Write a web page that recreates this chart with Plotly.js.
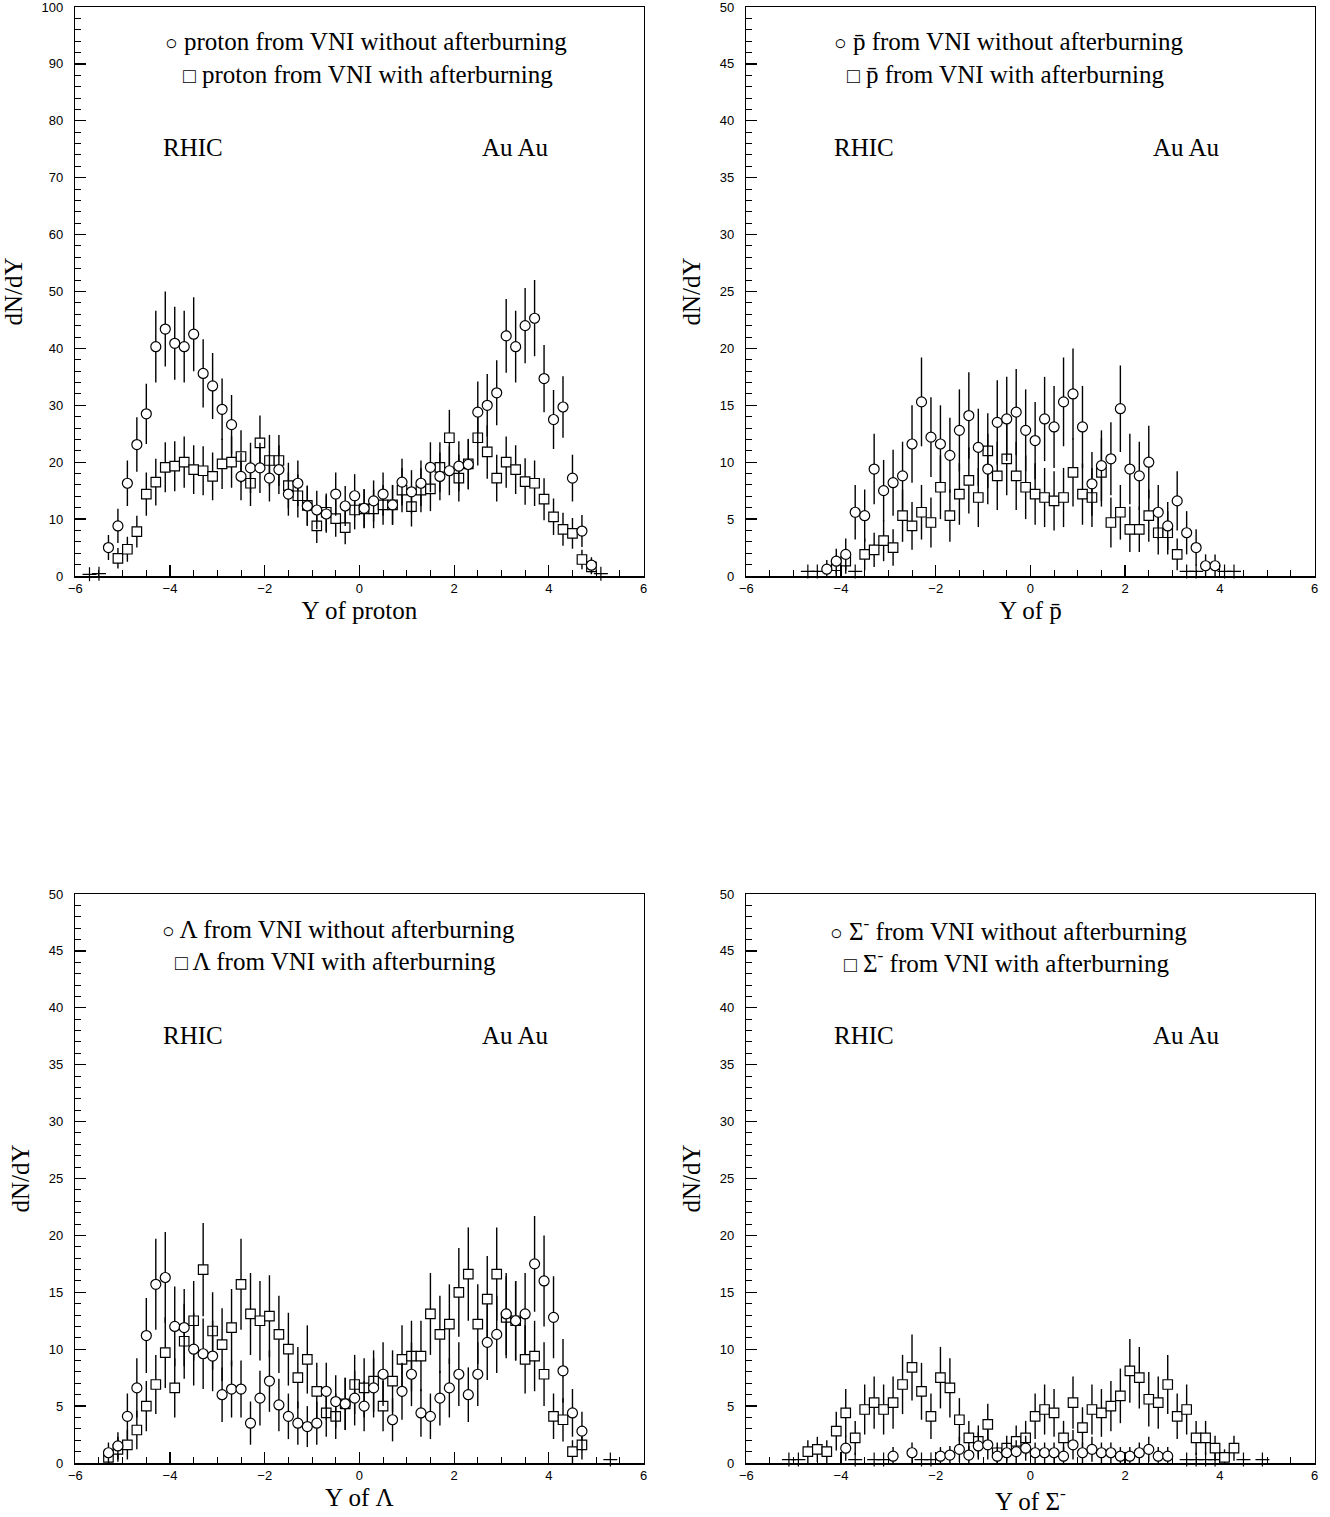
<!DOCTYPE html>
<html><head><meta charset="utf-8">
<script src="https://cdn.plot.ly/plotly-3.0.1.min.js"></script>
<style>body{margin:0;background:#fff}#chart{width:1330px;height:1517px}</style>
</head><body><div id="chart"></div>
<script>
// bin centres (rapidity Y)
const BINS = [-5.3,-5.1,-4.9,-4.7,-4.5,-4.3,-4.1,-3.9,-3.7,-3.5,-3.3,-3.1,-2.9,-2.7,-2.5,-2.3,-2.1,-1.9,-1.7,-1.5,-1.3,-1.1,-0.9,-0.7,-0.5,-0.3,-0.1,0.1,0.3,0.5,0.7,0.9,1.1,1.3,1.5,1.7,1.9,2.1,2.3,2.5,2.7,2.9,3.1,3.3,3.5,3.7,3.9,4.1,4.3,4.5,4.7,4.9];

// Panel 1: proton
const protonNoAB_x = BINS;
const protonNoAB = [5.0,8.8,16.3,23.1,28.5,40.3,43.4,40.9,40.3,42.5,35.6,33.4,29.3,26.6,17.5,19.0,19.0,17.2,18.7,14.4,16.3,12.3,11.6,10.9,14.4,12.3,14.1,11.9,13.2,14.4,12.5,16.5,14.8,16.3,19.1,17.5,18.5,19.3,19.6,28.8,30.0,32.2,42.2,40.3,44.0,45.3,34.7,27.5,29.7,17.2,7.9,1.9];
const protonNoAB_err = [2.2,3.0,4.0,4.8,5.3,6.3,6.6,6.4,6.3,6.5,6.0,5.8,5.4,5.2,4.2,4.4,4.4,4.1,4.3,3.8,4.0,3.5,3.4,3.3,3.8,3.5,3.8,3.4,3.6,3.8,3.5,4.1,3.8,4.0,4.4,4.2,4.3,4.4,4.4,5.4,5.5,5.7,6.5,6.3,6.6,6.7,5.9,5.2,5.4,4.1,2.8,1.4];
const protonAB_x = BINS.slice(1);
const protonAB = [3.1,4.7,7.8,14.4,16.5,19.1,19.3,20.0,18.7,18.5,17.5,19.7,20.0,21.0,16.3,23.4,20.3,20.3,15.9,14.1,12.4,8.8,11.2,10.1,8.5,11.6,11.8,11.8,12.5,12.5,15.1,12.2,15.1,15.3,19.1,24.3,17.2,19.7,24.3,21.8,17.2,20.0,18.7,16.6,16.3,13.5,10.4,8.2,7.5,2.9,1.6];
const protonAB_err = [1.8,2.2,2.8,3.8,4.1,4.4,4.4,4.5,4.3,4.3,4.2,4.4,4.5,4.6,4.0,4.8,4.5,4.5,4.0,3.8,3.5,3.0,3.3,3.2,2.9,3.4,3.4,3.4,3.5,3.5,3.9,3.5,3.9,3.9,4.4,4.9,4.1,4.4,4.9,4.7,4.1,4.5,4.3,4.1,4.0,3.7,3.2,2.9,2.7,1.7,1.3];
const protonEmpty_x = [-5.7,-5.5,5.1];
const protonEmpty = [0.3,0.4,0.4];

// Panel 2: anti-proton
const pbarNoAB_x = BINS.slice(5,47);
const pbarNoAB = [0.6,1.3,1.9,5.6,5.3,9.4,7.5,8.2,8.8,11.6,15.3,12.2,11.6,10.6,12.8,14.1,11.3,9.4,13.5,13.8,14.4,12.8,11.9,13.8,13.1,15.3,16.0,13.1,8.1,9.7,10.3,14.7,9.4,8.8,10.0,5.6,4.4,6.6,3.8,2.5,0.9,0.9];
const pbarNoAB_err = [0.8,1.1,1.4,2.4,2.3,3.1,2.7,2.9,3.0,3.4,3.9,3.5,3.4,3.3,3.6,3.8,3.4,3.1,3.7,3.7,3.8,3.6,3.4,3.7,3.6,3.9,4.0,3.6,2.8,3.1,3.2,3.8,3.1,3.0,3.2,2.4,2.1,2.6,1.9,1.6,1.0,1.0];
const pbarAB_x = [-4.1,-3.9,-3.5,-3.3,-3.1,-2.9,-2.7,-2.5,-2.3,-2.1,-1.9,-1.7,-1.5,-1.3,-1.1,-0.9,-0.7,-0.5,-0.3,-0.1,0.1,0.3,0.5,0.7,0.9,1.1,1.3,1.5,1.7,1.9,2.1,2.3,2.5,2.7,2.9,3.1];
const pbarAB = [0.9,1.3,1.9,2.3,3.1,2.5,5.3,4.4,5.6,4.7,7.8,5.3,7.2,8.4,6.9,11.0,8.8,10.3,8.8,7.8,7.2,6.9,6.6,6.9,9.1,7.2,6.9,9.1,4.7,5.6,4.1,4.1,5.3,3.8,3.8,1.9];
const pbarAB_err = [0.9,1.1,1.4,1.5,1.8,1.6,2.3,2.1,2.4,2.2,2.8,2.3,2.7,2.9,2.6,3.3,3.0,3.2,3.0,2.8,2.7,2.6,2.6,2.6,3.0,2.7,2.6,3.0,2.2,2.4,2.0,2.0,2.3,1.9,1.9,1.4];
const pbarEmpty_x = [-4.7,-4.5,-3.7,3.3,3.5,4.1,4.3];
const pbarEmpty = [0.4,0.4,0.4,0.4,0.4,0.4,0.4];

// Panel 3: Lambda
const lambdaNoAB_x = BINS.slice(0,51);
const lambdaNoAB = [0.9,1.5,4.1,6.6,11.2,15.7,16.3,12.0,11.9,10.0,9.6,9.4,6.0,6.5,6.5,3.5,5.7,7.2,5.1,4.1,3.5,3.2,3.5,6.3,5.4,5.2,5.7,5.0,6.6,7.8,3.8,6.3,7.8,4.4,4.1,5.7,6.6,7.8,6.0,7.8,10.6,11.3,13.1,12.5,13.1,17.5,16.0,12.8,8.1,4.4,2.8];
const lambdaNoAB_err = [0.9,1.2,2.0,2.6,3.3,4.0,4.0,3.5,3.4,3.2,3.1,3.1,2.4,2.5,2.5,1.9,2.4,2.7,2.3,2.0,1.9,1.8,1.9,2.5,2.3,2.3,2.4,2.2,2.6,2.8,1.9,2.5,2.8,2.1,2.0,2.4,2.6,2.8,2.4,2.8,3.3,3.4,3.6,3.5,3.6,4.2,4.0,3.6,2.8,2.1,1.7];
const lambdaAB_x = BINS.slice(0,51);
const lambdaAB = [0.5,1.2,1.6,2.9,5.0,6.9,9.7,6.6,10.7,12.5,17.0,11.6,10.4,11.9,15.7,13.1,12.5,12.9,11.3,10.0,7.5,9.1,6.3,4.4,4.1,5.2,6.9,6.6,7.2,5.0,7.2,9.1,9.4,9.4,13.1,11.3,12.2,15.0,16.6,12.2,14.4,16.6,12.8,12.5,9.1,9.4,7.8,4.1,3.8,1.0,1.6];
const lambdaAB_err = [0.7,1.1,1.3,1.7,2.2,2.6,3.1,2.6,3.3,3.5,4.1,3.4,3.2,3.4,4.0,3.6,3.5,3.6,3.4,3.2,2.7,3.0,2.5,2.1,2.0,2.3,2.6,2.6,2.7,2.2,2.7,3.0,3.1,3.1,3.6,3.4,3.5,3.9,4.1,3.5,3.8,4.1,3.6,3.5,3.0,3.1,2.8,2.0,1.9,1.0,1.3];
const lambdaEmpty_x = [5.3];
const lambdaEmpty = [0.3];

// Panel 4: Sigma-
const sigmaNoAB_x = [-3.9,-2.9,-2.5,-1.9,-1.7,-1.5,-1.3,-1.1,-0.9,-0.7,-0.5,-0.3,-0.1,0.1,0.3,0.5,0.7,0.9,1.1,1.3,1.5,1.7,1.9,2.1,2.3,2.5,2.7,2.9];
const sigmaNoAB = [1.3,0.6,0.9,0.6,0.7,1.2,0.7,1.5,1.6,0.6,0.9,1.0,1.3,0.9,0.9,0.9,0.6,1.6,0.9,1.2,0.9,0.9,0.6,0.6,0.9,1.2,0.6,0.6];
const sigmaNoAB_err = [1.1,0.8,0.9,0.8,0.8,1.1,0.8,1.2,1.3,0.8,0.9,1.0,1.1,0.9,0.9,0.9,0.8,1.3,0.9,1.1,0.9,0.9,0.8,0.8,0.9,1.1,0.8,0.8];
const sigmaAB_x = BINS.slice(3,49);
const sigmaAB = [1.0,1.2,1.0,2.8,4.4,2.2,4.7,5.3,4.7,5.3,6.9,8.4,6.3,4.1,7.5,6.6,3.8,2.2,1.9,3.4,0.9,1.3,1.9,2.2,4.1,4.7,4.4,2.2,5.3,3.1,4.7,4.4,5.0,5.9,8.1,7.5,5.6,5.3,6.9,4.1,4.7,2.2,2.2,1.3,0.5,1.3];
const sigmaAB_err = [1.0,1.1,1.0,1.7,2.1,1.5,2.2,2.3,2.2,2.3,2.6,2.9,2.5,2.0,2.7,2.6,1.9,1.5,1.4,1.8,0.9,1.1,1.4,1.5,2.0,2.2,2.1,1.5,2.3,1.8,2.2,2.1,2.2,2.4,2.8,2.7,2.4,2.3,2.6,2.0,2.2,1.5,1.5,1.1,0.7,1.1];
const sigmaEmpty_x = [-5.1,-4.9,-3.7,-3.3,-3.1,-2.3,-2.1,3.3,3.5,3.7,3.9,4.5,4.9];
const sigmaEmpty = [0.3,0.3,0.3,0.3,0.3,0.3,0.3,0.3,0.3,0.3,0.3,0.3,0.3];

const xTitles = ['Y of proton','Y of p\u0304','Y of \u039b','Y of \u03a3<sup>-</sup>'];
const particles = ['proton','p\u0304','\u039b','\u03a3<sup>-</sup>'];
const yMax = [100,50,50,50];

const W = 1330, H = 1517;
const SERIF = 'Liberation Serif, Times New Roman, serif';
const SANS = 'Liberation Sans, Arial, sans-serif';

// plot-area boxes in pixels [left, right, top, bottom]
const boxes = [[75.3,643.5,7,576],[746.3,1314.5,7,576],[75.3,643.5,894,1463],[746.3,1314.5,894,1463]];

const panels = [
  {nx:protonNoAB_x,ny:protonNoAB,ne:protonNoAB_err,ax:protonAB_x,ay:protonAB,ae:protonAB_err,ex:protonEmpty_x,ey:protonEmpty},
  {nx:pbarNoAB_x,ny:pbarNoAB,ne:pbarNoAB_err,ax:pbarAB_x,ay:pbarAB,ae:pbarAB_err,ex:pbarEmpty_x,ey:pbarEmpty},
  {nx:lambdaNoAB_x,ny:lambdaNoAB,ne:lambdaNoAB_err,ax:lambdaAB_x,ay:lambdaAB,ae:lambdaAB_err,ex:lambdaEmpty_x,ey:lambdaEmpty},
  {nx:sigmaNoAB_x,ny:sigmaNoAB,ne:sigmaNoAB_err,ax:sigmaAB_x,ay:sigmaAB,ae:sigmaAB_err,ex:sigmaEmpty_x,ey:sigmaEmpty}
];

const traces = [];
const layout = {width:W,height:H,margin:{l:0,r:0,t:0,b:0},paper_bgcolor:'#fff',plot_bgcolor:'#fff',showlegend:false,annotations:[]};

panels.forEach((p,i)=>{
  const n = i+1, xa = 'x'+(i?n:''), ya = 'y'+(i?n:'');
  const eb = (arr)=>({type:'data',array:arr,visible:true,color:'#000',thickness:1.4,width:0});
  traces.push({x:p.ex,y:p.ey,xaxis:xa,yaxis:ya,mode:'markers',type:'scatter',
    marker:{symbol:'cross-thin',size:10,line:{color:'#000',width:1.2}},cliponaxis:false});
  traces.push({x:p.ax,y:p.ay,xaxis:xa,yaxis:ya,mode:'markers',type:'scatter',error_y:eb(p.ae),
    marker:{symbol:'square',size:9.5,color:'#fff',line:{color:'#000',width:1.2}}});
  traces.push({x:p.nx,y:p.ny,xaxis:xa,yaxis:ya,mode:'markers',type:'scatter',error_y:eb(p.ne),
    marker:{symbol:'circle',size:10,color:'#fff',line:{color:'#000',width:1.2}}});
  const b = boxes[i];
  layout['xaxis'+(i?n:'')] = {domain:[b[0]/W,b[1]/W],anchor:ya,range:[-6,6],showgrid:false,zeroline:false,
    showline:true,mirror:true,linecolor:'#000',linewidth:1.5,ticks:'inside',ticklen:11,tickwidth:1.2,tickcolor:'#000',
    tick0:-6,dtick:2,minor:{ticks:'inside',ticklen:6,tickwidth:1,tickcolor:'#000',dtick:0.5,showgrid:false},
    tickfont:{family:SANS,size:13,color:'#000'},ticklabeloverflow:'allow',
    title:{text:xTitles[i],font:{family:SERIF,size:25,color:'#000'},standoff:6}};
  layout['yaxis'+(i?n:'')] = {domain:[1-b[3]/H,1-b[2]/H],anchor:xa,range:[0,yMax[i]],showgrid:false,zeroline:false,
    showline:true,mirror:true,linecolor:'#000',linewidth:1.5,ticks:'inside',ticklen:11,tickwidth:1.2,tickcolor:'#000',
    tick0:0,dtick:yMax[i]/10,minor:{ticks:'inside',ticklen:6,tickwidth:1,tickcolor:'#000',dtick:yMax[i]/50,showgrid:false},
    tickfont:{family:SANS,size:13,color:'#000'},ticklabelstandoff:8,ticklabeloverflow:'allow',
    title:{text:'dN/dY',font:{family:SERIF,size:25,color:'#000'},standoff:12}};
  const top = b[2];
  const cx = (i%2===0)?0:671;
  const ann = (txt,px,py)=>layout.annotations.push({text:txt,xref:'paper',yref:'paper',x:px/W,y:1-py/H,
    xanchor:'center',yanchor:'middle',showarrow:false,font:{family:SERIF,size:25,color:'#000'}});
  ann('<span style="font-size:21px">\u25cb</span> '+particles[i]+' from VNI without afterburning',(i%2===0?(i===0?366:338):1008),top+35);
  ann('<span style="font-size:21px">\u25a1</span> '+particles[i]+' from VNI with afterburning',(i%2===0?(i===0?368:335):1006),top+67);
  ann('RHIC',193+cx,top+141);
  ann('Au Au',515+cx,top+141);
});

Plotly.newPlot('chart',traces,layout,{staticPlot:true});
</script></body></html>
